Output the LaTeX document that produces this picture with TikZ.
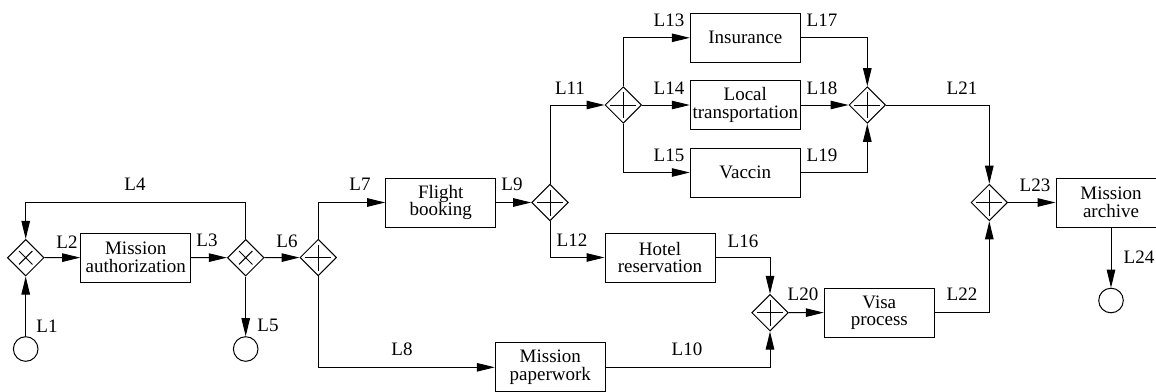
\documentclass[tikz,border=0pt]{standalone}
\usepackage{fontspec}
\setmainfont{Liberation Serif}
\usetikzlibrary{shapes.geometric,arrows.meta}

\begin{document}
\begin{tikzpicture}[x=1pt, y=-1pt, line width=1pt,
  every node/.style={font=\fontsize{19}{17.5}\selectfont},
  task/.style={rectangle, draw, inner sep=1pt, align=center, minimum width=110pt, minimum height=49pt},
  gand/.style={diamond, draw, inner sep=0pt, minimum width=36.6pt, minimum height=36.6pt,
    path picture={\draw ([xshift=-13pt]path picture bounding box.center) -- ([xshift=13pt]path picture bounding box.center)
      ([yshift=-13pt]path picture bounding box.center) -- ([yshift=13pt]path picture bounding box.center);}},
  gxor/.style={diamond, draw, inner sep=0pt, minimum width=36.6pt, minimum height=36.6pt,
    path picture={\draw ([shift={(-6.7pt,-6.7pt)}]path picture bounding box.center) -- ([shift={(6.7pt,6.7pt)}]path picture bounding box.center)
      ([shift={(-6.7pt,6.7pt)}]path picture bounding box.center) -- ([shift={(6.7pt,-6.7pt)}]path picture bounding box.center);}},
  ev/.style={circle, draw, inner sep=0pt, minimum size=24.6pt},
  lab/.style={inner sep=0pt},
  ->/.style={-{Triangle[length=18pt,width=8.5pt]}}]
\useasboundingbox (0,0) rectangle (1156,391);

% events
\node[ev] (start) at (25.7,349) {};
\node[ev] (end1) at (245.7,349) {};
\node[ev] (end2) at (1111,300.5) {};

% gateways
\node[gxor] (gx1) at (25.7,257.7) {};
\node[gxor] (gx2) at (245.7,257.7) {};
\node[gand] (ga1) at (318.3,257.5) {};
\node[gand] (ga2) at (550,202.5) {};
\node[gand] (ga3) at (623.3,105) {};
\node[gand] (ga4) at (867.3,105) {};
\node[gand] (ga5) at (770,312.7) {};
\node[gand] (ga6) at (989.3,202.5) {};

% tasks
\node[task] (auth) at (135.7,257.5) {Mission\\authorization};
\node[task] (flight) at (440.7,202.5) {Flight\\booking};
\node[task] (hotel) at (660,257.5) {Hotel\\reservation};
\node[task] (paper) at (550.3,367.3) {Mission\\paperwork};
\node[task] (ins) at (745.3,37.8) {Insurance};
\node[task] (local) at (745.3,105) {Local\\transportation};
\node[task] (vac) at (745.3,172.5) {Vaccin};
\node[task] (visa) at (879.3,312.5) {Visa\\process};
\node[task] (arch) at (1111,202.5) {Mission\\archive};

\coordinate (t4) at (135.7,202.7);

% flows
\draw[->] (start) -- (gx1);
\draw[->] (gx1) -- (auth);
\draw[->] (auth) -- (gx2);
\draw[->] (gx2.north) |- (t4) -| (gx1.north);
\draw[->] (gx2) -- (end1);
\draw[->] (gx2) -- (ga1);
\draw[->] (ga1.north) |- (flight.west);
\draw[->] (ga1.south) |- (paper.west);
\draw[->] (flight) -- (ga2);
\draw[->] (paper.east) -| (ga5.south);
\draw[->] (ga2.north) |- (ga3.west);
\draw[->] (ga2.south) |- (hotel.west);
\draw[->] (ga3.north) |- (ins.west);
\draw[->] (ga3) -- (local);
\draw[->] (ga3.south) |- (vac.west);
\draw[->] (hotel.east) -| (ga5.north);
\draw[->] (ins.east) -| (ga4.north);
\draw[->] (local) -- (ga4);
\draw[->] (vac.east) -| (ga4.south);
\draw[->] (ga5) -- (visa);
\draw[->] (ga4.east) -| (ga6.north);
\draw[->] (visa.east) -| (ga6.south);
\draw[->] (ga6) -- (arch);
\draw[->] (arch) -- (end2);

% labels
\node[lab] (l1) at (47,326) {L1};
\node[lab] (l2) at (67,242) {L2};
\node[lab] (l3) at (207,240) {L3};
\node[lab] (l4) at (135,184) {L4};
\node[lab] (l5) at (268,325) {L5};
\node[lab] (l6) at (287,241) {L6};
\node[lab] (l7) at (360,184) {L7};
\node[lab] (l8) at (402,349) {L8};
\node[lab] (l9) at (512,184) {L9};
\node[lab] (l10) at (687,349) {L10};
\node[lab] (l11) at (570,88) {L11};
\node[lab] (l12) at (572,240) {L12};
\node[lab] (l13) at (669,20) {L13};
\node[lab] (l14) at (669,88) {L14};
\node[lab] (l15) at (669,155) {L15};
\node[lab] (l16) at (743,241) {L16};
\node[lab] (l17) at (822,20) {L17};
\node[lab] (l18) at (822,88) {L18};
\node[lab] (l19) at (822,155) {L19};
\node[lab] (l20) at (803,294) {L20};
\node[lab] (l21) at (962,88) {L21};
\node[lab] (l22) at (962,294) {L22};
\node[lab] (l23) at (1035,185) {L23};
\node[lab] (l24) at (1139,257) {L24};
\end{tikzpicture}
\end{document}
